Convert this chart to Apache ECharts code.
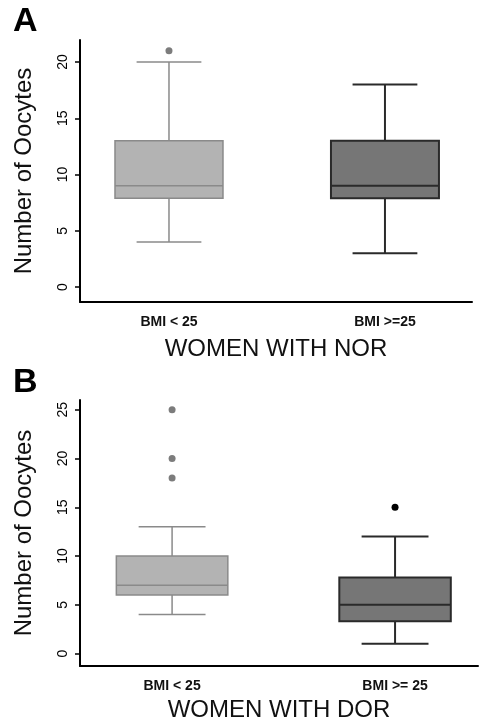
<!DOCTYPE html>
<html>
<head>
<meta charset="utf-8">
<script src="https://cdn.jsdelivr.net/npm/echarts@6/dist/echarts.min.js"></script>
<style>
html, body { margin: 0; padding: 0; background: #fff; }
#main { width: 479px; height: 723px; }
</style>
</head>
<body>
<div id="main"></div>
<script>
// panel A : women with NOR
var catsA = ['BMI < 25', 'BMI >=25'];
var boxA = [[4, 7.9, 9, 13, 20], [3, 7.9, 9, 13, 18]];   // min, Q1, median, Q3, max
var outA = [[1, 21]];                                      // [group, value]
var ticksA = [0, 5, 10, 15, 20];

// panel B : women with DOR
var catsB = ['BMI < 25', 'BMI >= 25'];
var boxB = [[4, 6, 7, 10, 13], [1, 3.3, 5, 7.8, 12]];
var outB = [[1, 25], [1, 20], [1, 18], [2, 15]];
var ticksB = [0, 5, 10, 15, 20, 25];

var FONT = 'Liberation Sans, Arial, Helvetica, sans-serif';
var boxFill = ['#b3b3b3', '#767676'];
var boxLine = ['#8a8a8a', '#2a2a2a'];
var outColor = ['#7c7c7c', '#000000'];

function toBoxData(arr){
    var res = [];
    for (var i = 0; i < arr.length; i++) {
        res.push([i + 1].concat(arr[i]));
    }
    return res;
}

function renderBox(params, api){
    var x = api.value(0);
    var k = x - 1;
    var pMin = api.coord([x, api.value(1)]);
    var pQ1 = api.coord([x, api.value(2)]);
    var pMed = api.coord([x, api.value(3)]);
    var pQ3 = api.coord([x, api.value(4)]);
    var pMax = api.coord([x, api.value(5)]);
    var band = api.size([1, 0])[0];
    var hw = band * 0.25;   // half box width
    var cw = band * 0.15;   // half cap width
    var ln = { stroke: boxLine[k], lineWidth: k == 0 ? 1.5 : 2 };
    return {
        type: 'group',
        children: [
            { type: 'line', shape: { x1: pMax[0], y1: pMax[1], x2: pQ3[0], y2: pQ3[1] }, style: ln },
            { type: 'line', shape: { x1: pMin[0], y1: pMin[1], x2: pQ1[0], y2: pQ1[1] }, style: ln },
            { type: 'line', shape: { x1: pMax[0] - cw, y1: pMax[1], x2: pMax[0] + cw, y2: pMax[1] }, style: ln },
            { type: 'line', shape: { x1: pMin[0] - cw, y1: pMin[1], x2: pMin[0] + cw, y2: pMin[1] }, style: ln },
            { type: 'rect', shape: { x: pQ3[0] - hw, y: pQ3[1], width: hw * 2, height: pQ1[1] - pQ3[1] },
              style: { fill: boxFill[k], stroke: boxLine[k], lineWidth: k == 0 ? 1.5 : 2 } },
            { type: 'line', shape: { x1: pMed[0] - hw, y1: pMed[1], x2: pMed[0] + hw, y2: pMed[1] }, style: ln }
        ]
    };
}

function xAxisOf(gi, cats, min, max, title, gap){
    return {
        type: 'value', gridIndex: gi, min: min, max: max,
        name: title, nameLocation: 'middle', nameGap: gap,
        nameTextStyle: { fontFamily: FONT, fontSize: 24, color: '#111' },
        axisLine: { onZero: false, lineStyle: { color: '#000', width: 2 } },
        axisTick: { show: false },
        splitLine: { show: false },
        axisLabel: {
            customValues: [1, 2], margin: 13,
            fontFamily: FONT, fontSize: 14, fontWeight: 'bold', color: '#111',
            formatter: function(v){ return cats[Math.round(v) - 1]; }
        }
    };
}

function yAxisOf(gi, min, max, ticks){
    return {
        type: 'value', gridIndex: gi, min: min, max: max,
        name: 'Number of Oocytes', nameLocation: 'middle', nameGap: 44, nameRotate: 90,
        nameTextStyle: { fontFamily: FONT, fontSize: 24, color: '#111' },
        axisLine: { show: true, onZero: false, lineStyle: { color: '#000', width: 2 } },
        axisTick: { show: true, customValues: ticks, length: 5, lineStyle: { color: '#000', width: 1.5 } },
        splitLine: { show: false },
        axisLabel: { customValues: ticks, rotate: 90, margin: 10, fontFamily: FONT, fontSize: 14, color: '#000' }
    };
}

var chart = echarts.init(document.getElementById('main'));
var option = {
    animation: false,
    backgroundColor: '#fff',
    title: [
        { text: 'A', left: 13, top: 5, padding: 0, textStyle: { fontFamily: FONT, fontSize: 34, fontWeight: 'bold', color: '#000' } },
        { text: 'B', left: 13, top: 366, padding: 0, textStyle: { fontFamily: FONT, fontSize: 34, fontWeight: 'bold', color: '#000' } }
    ],
    grid: [
        { left: 80, top: 40, width: 392, height: 262 },
        { left: 80, top: 400, width: 398, height: 269 }
    ],
    xAxis: [
        xAxisOf(0, catsA, 0.588, 2.403, 'WOMEN WITH NOR', 35),
        xAxisOf(1, catsB, 0.587, 2.372, 'WOMEN WITH DOR', 32)
    ],
    yAxis: [
        yAxisOf(0, -1.33, 21.96, ticksA),
        yAxisOf(1, -1.28, 26.0, ticksB)
    ],
    series: [
        { type: 'custom', xAxisIndex: 0, yAxisIndex: 0, renderItem: renderBox,
          encode: { x: 0, y: [1, 2, 3, 4, 5] }, data: toBoxData(boxA) },
        { type: 'custom', xAxisIndex: 1, yAxisIndex: 1, renderItem: renderBox,
          encode: { x: 0, y: [1, 2, 3, 4, 5] }, data: toBoxData(boxB) },
        { type: 'scatter', xAxisIndex: 0, yAxisIndex: 0, symbol: 'circle', symbolSize: 7, data: outA,
          itemStyle: { opacity: 1, color: function(p){ return outColor[p.data[0] - 1]; } } },
        { type: 'scatter', xAxisIndex: 1, yAxisIndex: 1, symbol: 'circle', symbolSize: 7, data: outB,
          itemStyle: { opacity: 1, color: function(p){ return outColor[p.data[0] - 1]; } } }
    ]
};
chart.setOption(option);
</script>
</body>
</html>
